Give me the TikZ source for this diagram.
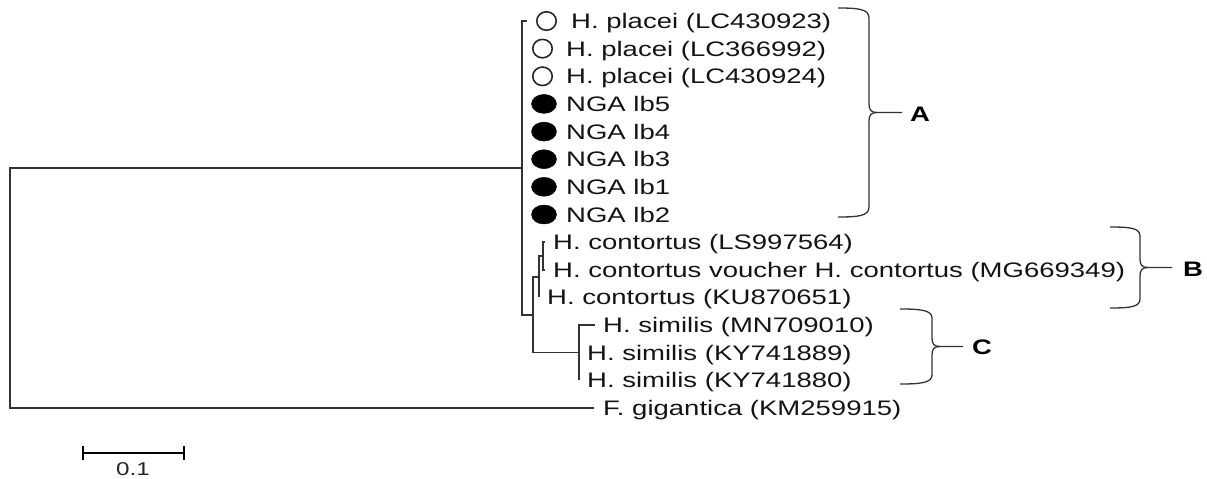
\documentclass[tikz,border=0pt]{standalone}
\usepackage{fontspec}
\usetikzlibrary{shapes.geometric}
\setmainfont{Liberation Sans}[FakeStretch=1.31]
\begin{document}
\begin{tikzpicture}[x=1pt,y=-1pt,
  branch/.style={draw=black!80,line width=1.5pt},
  brace/.style={draw=black!80,line width=1.3pt},
  taxon/.style={inner sep=0pt,anchor=base west,yshift=-7.5pt,text=black!92,
    font=\fontsize{21}{25}\selectfont},
  clade/.style={inner sep=0pt,text=black,font=\fontsize{21}{25}\selectfont\bfseries},
  openmark/.style={ellipse,draw=black!85,line width=1.6pt,fill=white,
    minimum width=19.5pt,minimum height=18.5pt,inner sep=0pt},
  fullmark/.style={ellipse,draw=black,fill=black,
    minimum width=25pt,minimum height=19pt,inner sep=0pt}]
\useasboundingbox (0,0) rectangle (1207,479);

% internal nodes of the tree
\coordinate (root) at (10,288);
\coordinate (n1) at (522,168);
\coordinate (n2) at (533,314.8);
\coordinate (n3) at (539,276.8);
\coordinate (n4) at (543,256);
\coordinate (n5) at (579,352.7);

% tip ends
\coordinate (t0) at (527,21);
\coordinate (t1) at (522,48.6);
\coordinate (t2) at (522,76.3);
\coordinate (t3) at (522,103.9);
\coordinate (t4) at (522,131.6);
\coordinate (t5) at (522,159.2);
\coordinate (t6) at (522,186.8);
\coordinate (t7) at (522,214.5);
\coordinate (t8) at (545,242.1);
\coordinate (t9) at (545,269.8);
\coordinate (t10) at (539,297.4);
\coordinate (t11) at (595,325);
\coordinate (t12) at (579,352.7);
\coordinate (t13) at (579,380.3);
\coordinate (t14) at (594,408);

% branches
\draw[branch] (root) |- (n1);
\draw[branch] (root) |- (t14);
\foreach \t in {t0,t1,t2,t3,t4,t5,t6,t7} \draw[branch] (n1) |- (\t);
\draw[branch] (n1) |- (n2);
\draw[branch] (n2) |- (n3);
\draw[branch] (n2) |- (n5);
\draw[branch] (n3) |- (n4);
\draw[branch] (n3) |- (t10);
\draw[branch] (n4) |- (t8);
\draw[branch] (n4) |- (t9);
\draw[branch] (n5) |- (t11);
\draw[branch] (n5) |- (t12);
\draw[branch] (n5) |- (t13);

% markers
\node[openmark] (m0) at (546.5,21) {};
\node[openmark] (m1) at (542.5,48.6) {};
\node[openmark] (m2) at (542.5,76.3) {};
\node[fullmark] (m3) at (544,103.9) {};
\node[fullmark] (m4) at (544,131.6) {};
\node[fullmark] (m5) at (544,159.2) {};
\node[fullmark] (m6) at (544,186.8) {};
\node[fullmark] (m7) at (544,214.5) {};

% taxon labels
\node[taxon] (l0) at (571,21) {H. placei (LC430923)};
\node[taxon] (l1) at (566,48.6) {H. placei (LC366992)};
\node[taxon] (l2) at (566,76.3) {H. placei (LC430924)};
\node[taxon] (l3) at (566,103.9) {NGA lb5};
\node[taxon] (l4) at (566,131.6) {NGA lb4};
\node[taxon] (l5) at (566,159.2) {NGA lb3};
\node[taxon] (l6) at (566,186.8) {NGA lb1};
\node[taxon] (l7) at (566,214.5) {NGA lb2};
\node[taxon] (l8) at (553,242.1) {H. contortus (LS997564)};
\node[taxon] (l9) at (553,269.8) {H. contortus voucher H. contortus (MG669349)};
\node[taxon] (l10) at (547,297.4) {H. contortus (KU870651)};
\node[taxon] (l11) at (603,325) {H. similis (MN709010)};
\node[taxon] (l12) at (587,352.7) {H. similis (KY741889)};
\node[taxon] (l13) at (587,380.3) {H. similis (KY741880)};
\node[taxon] (l14) at (603,408) {F. gigantica (KM259915)};

% clade braces
\draw[brace] (838,8) .. controls (858,8) and (869,9) .. (869,18) -- (869,104)
  .. controls (869,110) and (871,112.5) .. (877,112.5) -- (902,112.5);
\draw[brace] (877,112.5) .. controls (871,112.5) and (869,115) .. (869,121) -- (869,207)
  .. controls (869,216) and (858,217) .. (838,217);
\node[clade] (A) at (920,114) {A};

\draw[brace] (1110,227) .. controls (1130,227) and (1140,228) .. (1140,236) -- (1140,259)
  .. controls (1140,265) and (1142,267.5) .. (1148,267.5) -- (1172,267.5);
\draw[brace] (1148,267.5) .. controls (1142,267.5) and (1140,270) .. (1140,276) -- (1140,299)
  .. controls (1140,307) and (1130,308) .. (1110,308);
\node[clade] (B) at (1193,269) {B};

\draw[brace] (900,309) .. controls (920,309) and (932,310) .. (932,318) -- (932,338)
  .. controls (932,344) and (934,346.5) .. (940,346.5) -- (963,346.5);
\draw[brace] (940,346.5) .. controls (934,346.5) and (932,349) .. (932,355) -- (932,375)
  .. controls (932,383) and (920,384) .. (900,384);
\node[clade] (C) at (982,347.5) {C};

% scale bar
\coordinate (s0) at (83,453);
\coordinate (s1) at (184,453);
\draw[line width=2.4pt,black] (s0) -- (s1);
\draw[line width=2.4pt,black] ([yshift=7pt]s0) -- ([yshift=-7pt]s0);
\draw[line width=2.4pt,black] ([yshift=7pt]s1) -- ([yshift=-7pt]s1);
\node[inner sep=0pt,text=black!85,font=\fontsize{18.5}{21}\selectfont] (sl) at (133,469) {0.1};
\end{tikzpicture}
\end{document}
